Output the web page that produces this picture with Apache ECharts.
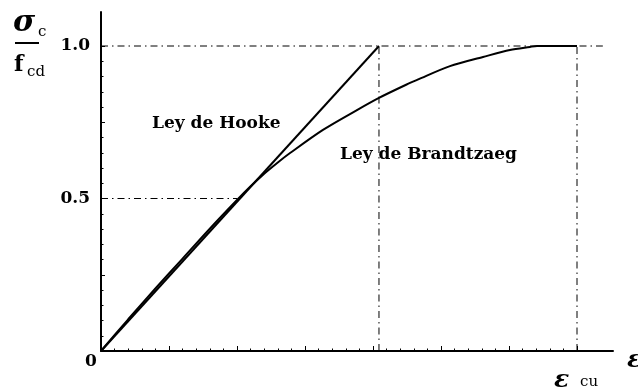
<!DOCTYPE html>
<html>
<head>
<meta charset="utf-8">
<script src="https://cdn.jsdelivr.net/npm/echarts@6/dist/echarts.min.js"></script>
<style>
  html, body { margin: 0; padding: 0; background: #fff; }
  #chart { width: 638px; height: 387px; }
</style>
</head>
<body>
<div id="chart"></div>
<script>
// Strain (per mille) and relative stress sigma_c / f_cd
const hookeStrain = [0, 2.044];
const hookeStress = [0, 1.0];

const brandtzaegStrain = [0, 0.2, 0.4, 0.6, 0.8, 1.0, 1.1, 1.184, 1.3, 1.39, 1.632, 1.882, 2.044, 2.272, 2.324, 2.566, 2.809, 3.007, 3.154, 3.206, 3.5];
const brandtzaegStress = [0, 0.104, 0.205, 0.303, 0.401, 0.495, 0.54, 0.575, 0.618, 0.649, 0.725, 0.79, 0.83, 0.879, 0.889, 0.934, 0.964, 0.987, 0.997, 1.0, 1.0];

const yTickLabels = { '0.5': '0.5', '1': '1.0' };
const ultimateStrain = 3.5;          // eps_cu
const hookeLimitStrain = 2.044;      // end of the elastic line
const guideLevels = [0.5, 1.0];

const pairs = (xs, ys) => xs.map((x, i) => [x, ys[i]]);

const SERIF = '"DejaVu Serif", "Liberation Serif", serif';
const dashDot = [7, 4, 1.5, 4];

const chart = echarts.init(document.getElementById('chart'), null, { renderer: 'canvas' });

// Same pixel scale in both grids: 136 px per unit on x, 305 px per unit on y
const X_MAX = 512 / 136;
const Y_MAX = 339 / 305;

function guide(points) {
  return {
    type: 'line', xAxisIndex: 0, yAxisIndex: 0, data: points,
    symbol: 'none', silent: true, z: 1,
    lineStyle: { color: '#000', width: 1, type: dashDot }
  };
}

const option = {
  animation: false,
  backgroundColor: '#fff',
  grid: [
    { left: 101, top: 12, width: 512, height: 339 },
    { left: 101, top: 46, width: 476, height: 305 }
  ],
  xAxis: [
    {
      gridIndex: 0, type: 'value', min: 0, max: X_MAX,
      axisLine: { show: true, lineStyle: { color: '#000', width: 2 } },
      axisTick: { show: false }, axisLabel: { show: false }, splitLine: { show: false }
    },
    {
      gridIndex: 1, type: 'value', min: 0, max: ultimateStrain, interval: 0.5,
      axisLine: { show: false },
      axisTick: { show: true, inside: true, length: 5, lineStyle: { color: '#000', width: 1 } },
      minorTick: { show: true, splitNumber: 5, length: 2.5, lineStyle: { color: '#000', width: 1 } },
      axisLabel: { show: false }, splitLine: { show: false }
    }
  ],
  yAxis: [
    {
      gridIndex: 0, type: 'value', min: 0, max: Y_MAX,
      axisLine: { show: true, lineStyle: { color: '#000', width: 2 } },
      axisTick: { show: false }, axisLabel: { show: false }, splitLine: { show: false }
    },
    {
      gridIndex: 1, type: 'value', min: 0, max: 1, interval: 0.25,
      axisLine: { show: false },
      axisTick: { show: true, inside: true, length: 4, lineStyle: { color: '#000', width: 1 } },
      minorTick: { show: true, splitNumber: 5, length: 2.5, lineStyle: { color: '#000', width: 1 } },
      axisLabel: {
        show: true, margin: 11, color: '#000',
        fontFamily: SERIF, fontWeight: 'bold', fontSize: 17,
        formatter: v => yTickLabels[String(v)] || ''
      },
      splitLine: { show: false }
    }
  ],
  series: [
    guide([[0, guideLevels[1]], [3.69, guideLevels[1]]]),
    guide([[0, guideLevels[0]], [1.0, guideLevels[0]]]),
    guide([[hookeLimitStrain, 0], [hookeLimitStrain, guideLevels[1]]]),
    guide([[ultimateStrain, 0], [ultimateStrain, guideLevels[1]]]),
    {
      name: 'Ley de Hooke', type: 'line', xAxisIndex: 0, yAxisIndex: 0,
      data: pairs(hookeStrain, hookeStress), symbol: 'none', z: 3,
      lineStyle: { color: '#000', width: 2 }
    },
    {
      name: 'Ley de Brandtzaeg', type: 'line', xAxisIndex: 0, yAxisIndex: 0,
      data: pairs(brandtzaegStrain, brandtzaegStress), symbol: 'none', smooth: 0.3, z: 3,
      lineStyle: { color: '#000', width: 2 }
    }
  ],
  graphic: [
    { type: 'text', left: 152, top: 115,
      style: { text: 'Ley de Hooke', font: 'bold 17px ' + SERIF, fill: '#000' } },
    { type: 'text', left: 340, top: 146,
      style: { text: 'Ley de Brandtzaeg', font: 'bold 17px ' + SERIF, fill: '#000' } },
    { type: 'text', left: 85, top: 353,
      style: { text: '0', font: 'bold 17px ' + SERIF, fill: '#000' } },
    // axis title: sigma_c over f_cd
    { type: 'text', left: 13, top: 8,
      style: { text: 'σ', font: 'italic bold 30px ' + SERIF, fill: '#000' } },
    { type: 'text', left: 38, top: 25,
      style: { text: 'c', font: '15px ' + SERIF, fill: '#000' } },
    { type: 'rect', shape: { x: 15, y: 42, width: 24, height: 2 }, style: { fill: '#000' } },
    { type: 'text', left: 14, top: 54,
      style: { text: 'f', font: 'bold 22px ' + SERIF, fill: '#000' } },
    { type: 'text', left: 27, top: 65,
      style: { text: 'cd', font: '15px ' + SERIF, fill: '#000' } },
    // strain labels
    { type: 'text', left: 554, top: 368,
      style: { text: 'ε', font: 'italic bold 25px ' + SERIF, fill: '#000' } },
    { type: 'text', left: 580, top: 375,
      style: { text: 'cu', font: '15px ' + SERIF, fill: '#000' } },
    { type: 'text', left: 627, top: 348,
      style: { text: 'ε', font: 'italic bold 25px ' + SERIF, fill: '#000' } }
  ]
};

chart.setOption(option);
</script>
</body>
</html>
